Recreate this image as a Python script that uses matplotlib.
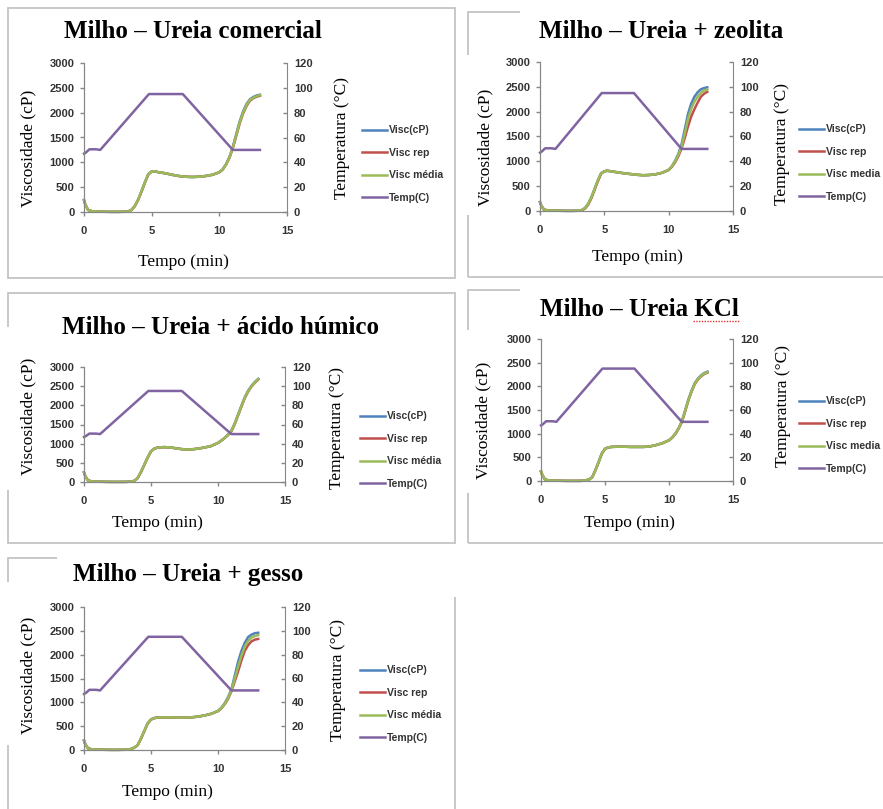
import matplotlib
matplotlib.use("Agg")
import matplotlib.pyplot as plt
from matplotlib.patches import Rectangle
from matplotlib.lines import Line2D

W, H = 883, 809

# ---- data ------------------------------------------------------------------
tempo = [0, 0.1, 0.3, 0.6, 1, 1.5, 2, 2.5, 3, 3.25, 3.5, 3.75, 4, 4.25, 4.5, 4.75,
         5, 5.25, 5.5, 6, 6.5, 7, 7.5, 8, 8.5, 9, 9.5, 10, 10.25, 10.5, 10.75,
         11, 11.25, 11.5, 11.75, 12, 12.25, 12.5, 12.75, 13]

tempo_temp = [0, 0.15, 0.4, 0.9, 1.2, 4.8, 7.3, 11.0, 13.0]
temperatura = [47, 48, 50.5, 50.5, 50, 95, 95, 50, 50]

comercial_visc = [240, 150, 40, 15, 10, 5, 3, 3, 5, 10, 40, 120, 250, 420, 600, 760,
                  815, 820, 800, 780, 750, 725, 710, 705, 710, 725, 750, 800, 860, 965, 1110,
                  1310, 1570, 1820, 2020, 2170, 2265, 2315, 2345, 2360]
comercial_rep = [240, 150, 40, 15, 10, 5, 3, 3, 5, 10, 40, 115, 240, 410, 590, 755,
                 815, 820, 800, 780, 750, 725, 710, 705, 710, 725, 750, 800, 855, 955, 1090,
                 1290, 1530, 1780, 1980, 2130, 2235, 2290, 2320, 2340]
comercial_media = [240, 150, 40, 15, 10, 5, 3, 3, 5, 10, 40, 120, 250, 420, 600, 760,
                   815, 820, 800, 780, 750, 725, 710, 705, 710, 725, 750, 800, 860, 960, 1100,
                   1300, 1550, 1800, 2000, 2150, 2250, 2300, 2330, 2350]

zeolita_visc = [180, 110, 30, 12, 8, 5, 3, 3, 5, 20, 60, 150, 280, 450, 620, 760,
                800, 810, 800, 780, 760, 745, 730, 720, 725, 740, 770, 830, 900, 1010, 1150,
                1340, 1640, 1950, 2160, 2300, 2390, 2450, 2475, 2490]
zeolita_rep = [180, 110, 30, 12, 8, 5, 3, 3, 5, 15, 50, 130, 260, 430, 600, 750,
               800, 810, 800, 780, 760, 745, 730, 720, 725, 740, 770, 825, 890, 980, 1100,
               1260, 1470, 1700, 1900, 2050, 2180, 2300, 2360, 2400]
zeolita_media = [180, 110, 30, 12, 8, 5, 3, 3, 5, 20, 60, 150, 280, 450, 620, 760,
                 800, 810, 800, 780, 760, 745, 730, 720, 725, 740, 770, 830, 900, 1000, 1130,
                 1300, 1560, 1850, 2060, 2200, 2300, 2380, 2425, 2450]

humico_visc = [250, 150, 40, 15, 8, 5, 3, 3, 3, 5, 10, 30, 100, 260, 450, 640,
               800, 870, 900, 910, 900, 870, 850, 850, 870, 900, 940, 1020, 1080, 1150, 1235,
               1340, 1530, 1760, 1990, 2210, 2380, 2510, 2610, 2690]
humico_rep = [250, 150, 40, 15, 8, 5, 3, 3, 3, 5, 10, 30, 100, 255, 445, 635,
              800, 870, 900, 910, 900, 870, 850, 850, 870, 900, 940, 1020, 1080, 1150, 1225,
              1320, 1510, 1740, 1970, 2190, 2360, 2490, 2590, 2670]
humico_media = [250, 150, 40, 15, 8, 5, 3, 3, 3, 5, 10, 30, 100, 260, 450, 640,
                800, 870, 900, 910, 900, 870, 850, 850, 870, 900, 940, 1020, 1080, 1150, 1230,
                1330, 1520, 1750, 1980, 2200, 2370, 2500, 2600, 2680]

kcl_visc = [200, 130, 35, 12, 8, 5, 3, 3, 3, 5, 15, 30, 80, 230, 400, 580,
            680, 710, 720, 725, 725, 720, 720, 720, 730, 760, 800, 860, 920, 1000, 1115,
            1260, 1480, 1710, 1900, 2060, 2160, 2230, 2280, 2310]
kcl_rep = [200, 130, 35, 12, 8, 5, 3, 3, 3, 5, 15, 30, 80, 225, 395, 575,
           680, 710, 720, 725, 725, 720, 720, 720, 730, 760, 800, 860, 915, 995, 1105,
           1240, 1460, 1690, 1880, 2040, 2140, 2210, 2260, 2290]
kcl_media = [200, 130, 35, 12, 8, 5, 3, 3, 3, 5, 15, 30, 80, 230, 400, 580,
             680, 710, 720, 725, 725, 720, 720, 720, 730, 760, 800, 860, 920, 1000, 1110,
             1250, 1470, 1700, 1890, 2050, 2150, 2220, 2270, 2300]

gesso_visc = [200, 120, 35, 12, 8, 5, 3, 3, 5, 10, 20, 50, 100, 240, 400, 560,
              640, 670, 680, 685, 685, 680, 680, 685, 700, 725, 760, 820, 885, 980, 1110,
              1270, 1560, 1850, 2080, 2250, 2370, 2420, 2450, 2460]
gesso_rep = [200, 120, 35, 12, 8, 5, 3, 3, 5, 10, 20, 50, 100, 235, 395, 555,
             640, 670, 680, 685, 685, 680, 680, 685, 700, 725, 760, 815, 875, 960, 1070,
             1230, 1440, 1650, 1880, 2080, 2200, 2280, 2315, 2330]
gesso_media = [200, 120, 35, 12, 8, 5, 3, 3, 5, 10, 20, 50, 100, 240, 400, 560,
               640, 670, 680, 685, 685, 680, 680, 685, 700, 725, 760, 820, 880, 970, 1090,
               1250, 1500, 1750, 1980, 2170, 2290, 2360, 2390, 2410]

titulos = ["Milho \u2013 Ureia comercial", "Milho \u2013 Ureia + zeolita",
           "Milho \u2013 Ureia + \u00e1cido h\u00famico", "Milho \u2013 Ureia KCl",
           "Milho \u2013 Ureia + gesso"]
rotulos = ["Visc(cP)", "Visc rep", "Visc m\u00e9dia", "Temp(C)"]
rotulos_sem_acento = ["Visc(cP)", "Visc rep", "Visc media", "Temp(C)"]

AZUL, VERMELHO, VERDE, ROXO = "#4F81BD", "#C0504D", "#9BBB59", "#8064A2"
CINZA = "#868686"
MOLDURA = "#c4c4c4"
SERIF = "Liberation Serif"
SANS = "Liberation Sans"


def fx(px):
    return px / W


def fy(py):
    return 1 - py / H


def draw_panel(fig, p, visc, rep, media, titulo, labels):
    # panel frame
    bx0, by0, bx1, by1 = p["frame"]
    fig.add_artist(Rectangle((fx(bx0), fy(by1)), (bx1 - bx0) / W, (by1 - by0) / H,
                             transform=fig.transFigure, fill=False,
                             edgecolor=MOLDURA, lw=1.3))
    for cx0, cy0, cx1, cy1 in p["covers"]:
        fig.add_artist(Rectangle((fx(cx0), fy(cy1)), (cx1 - cx0) / W, (cy1 - cy0) / H,
                                 transform=fig.transFigure, facecolor="white",
                                 edgecolor="none", zorder=2))

    x0, ytop, x1, ybot = p["area"]
    ax = fig.add_axes([fx(x0), fy(ybot), (x1 - x0) / W, (ybot - ytop) / H])
    ax2 = ax.twinx()

    l1, = ax.plot(tempo, visc, color=AZUL, lw=1.8, clip_on=False)
    l2, = ax.plot(tempo, rep, color=VERMELHO, lw=1.8, clip_on=False)
    l3, = ax.plot(tempo, media, color=VERDE, lw=1.8, clip_on=False)
    l4, = ax2.plot(tempo_temp, temperatura, color=ROXO, lw=1.8, clip_on=False)

    ax.set_xlim(0, 15)
    ax.set_ylim(0, 3000)
    ax2.set_ylim(0, 120)
    ax.set_xticks([0, 5, 10, 15])
    ax.set_yticks(range(0, 3001, 500))
    ax2.set_yticks(range(0, 121, 20))

    for a in (ax, ax2):
        for s in a.spines.values():
            s.set_color(CINZA)
        a.spines["top"].set_visible(False)
        a.tick_params(colors=CINZA, labelcolor="#333333", length=3, width=1, labelsize=8)
        for lab in a.get_xticklabels() + a.get_yticklabels():
            lab.set_fontweight("bold")
            lab.set_family(SANS)
    ax.spines["right"].set_visible(False)
    ax.tick_params(axis="x", pad=7)
    ax.tick_params(axis="y", pad=4)
    ax2.tick_params(axis="y", direction="in", pad=5)

    fig.text(fx(p["title"][0]), fy(p["title"][1]), titulo, ha="center", va="center",
             fontsize=18, fontweight="bold", family=SERIF)
    fig.text(fx(p["ylab_l"][0]), fy(p["ylab_l"][1]), "Viscosidade (cP)", rotation=90,
             ha="center", va="center", fontsize=12.5, family=SERIF)
    fig.text(fx(p["ylab_r"][0]), fy(p["ylab_r"][1]), "Temperatura (\u00b0C)", rotation=90,
             ha="center", va="center", fontsize=12.5, family=SERIF)
    fig.text(fx(p["xlab"][0]), fy(p["xlab"][1]), "Tempo (min)", ha="center", va="center",
             fontsize=12.5, family=SERIF)

    fig.legend([l1, l2, l3, l4], labels, loc="center left",
               bbox_to_anchor=(fx(p["leg"][0]), fy(p["leg"][1])),
               bbox_transform=fig.transFigure, frameon=False, borderpad=0,
               borderaxespad=0, handlelength=2.4, handletextpad=0.2,
               labelspacing=1.2, prop={"family": SANS, "size": 7.5, "weight": "bold"},
               labelcolor="#333333")
    return ax


# pixel layout of each panel
layout = [
    dict(frame=(8, 8, 455, 278), covers=[], area=(84, 63, 287, 212),
         title=(193, 32), ylab_l=(28, 148), ylab_r=(342, 138), xlab=(183, 262),
         leg=(362, 164)),
    dict(frame=(468, 12, 895, 277), covers=[(520, 5, 890, 20), (462, 55, 474, 215)],
         area=(540, 62, 733, 211), title=(661, 32), ylab_l=(485, 147),
         ylab_r=(782, 144), xlab=(637, 257), leg=(799, 163)),
    dict(frame=(8, 293, 455, 543), covers=[(3, 327, 14, 490)], area=(84, 367, 285, 482),
         title=(220, 328), ylab_l=(28, 416), ylab_r=(337, 428), xlab=(157, 523),
         leg=(360, 450)),
    dict(frame=(468, 290, 895, 543), covers=[(520, 284, 890, 298), (462, 330, 474, 493)],
         area=(541, 339, 733, 481), title=(639, 310), ylab_l=(483, 420),
         ylab_r=(783, 406), xlab=(629, 523), leg=(799, 435)),
    dict(frame=(8, 558, 455, 815), covers=[(57, 552, 462, 565), (3, 582, 14, 745),
                                            (449, 552, 462, 597)],
         area=(84, 607, 285, 750), title=(188, 575), ylab_l=(28, 675),
         ylab_r=(338, 680), xlab=(167, 792), leg=(360, 704)),
]

fig = plt.figure(figsize=(W / 100, H / 100), dpi=100)

draw_panel(fig, layout[0], comercial_visc, comercial_rep, comercial_media, titulos[0], rotulos)
draw_panel(fig, layout[1], zeolita_visc, zeolita_rep, zeolita_media, titulos[1], rotulos_sem_acento)
draw_panel(fig, layout[2], humico_visc, humico_rep, humico_media, titulos[2], rotulos)
draw_panel(fig, layout[3], kcl_visc, kcl_rep, kcl_media, titulos[3], rotulos_sem_acento)
draw_panel(fig, layout[4], gesso_visc, gesso_rep, gesso_media, titulos[4], rotulos)

# red dotted spell-check underline under "KCl"
fig.add_artist(Line2D([fx(693), fx(740)], [fy(321), fy(321)], transform=fig.transFigure,
                      color="#e03030", ls=(0, (1, 1)), lw=1))

fig.savefig("out.png", dpi=100)
